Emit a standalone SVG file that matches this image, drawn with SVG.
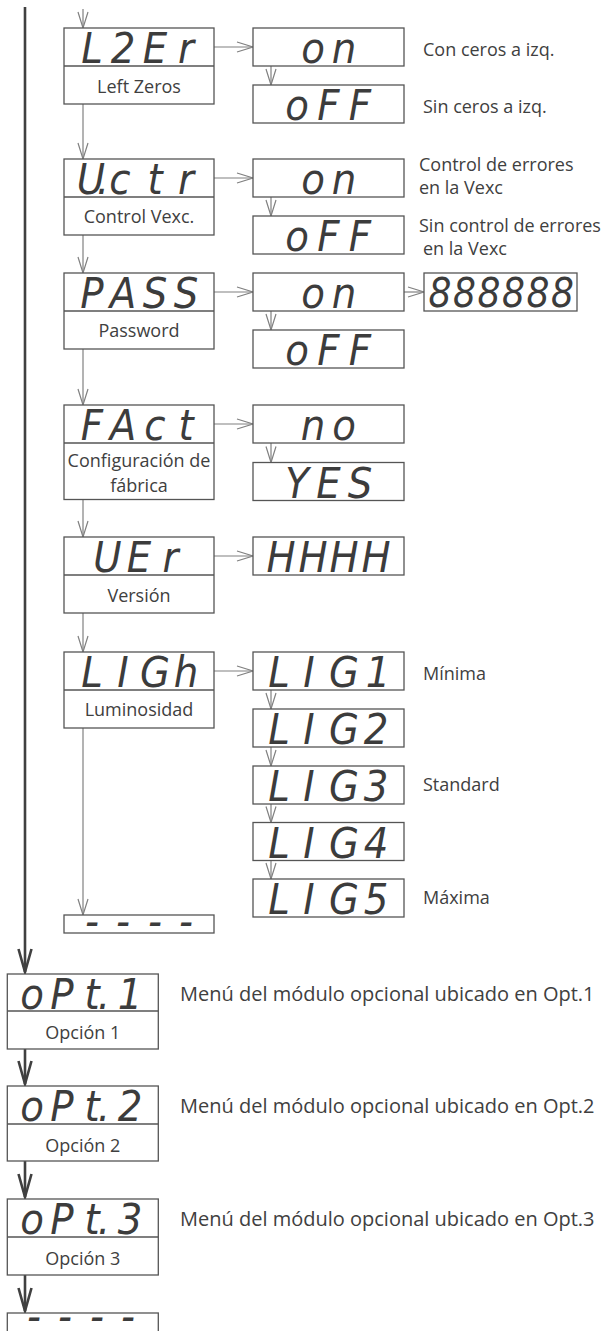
<svg xmlns="http://www.w3.org/2000/svg" width="613" height="1331" viewBox="0 0 613 1331">
  <style>
    .box{fill:#fff;stroke:#555;stroke-width:1.3}
    .div{stroke:#555;stroke-width:1.3}
    .seg{font-family:"DejaVu Sans Condensed","DejaVu Sans",sans-serif;font-stretch:condensed;font-style:oblique;font-size:43px;fill:#3c3c3c;text-anchor:middle}
    .seg6{font-size:40px}
    .lbl{font-family:"Open Sans","Liberation Sans",sans-serif;font-size:18px;fill:#404040}
    .big{font-size:20px}
    .mid{text-anchor:middle}
    .conn{stroke:#808080;stroke-width:1.2;fill:none;marker-end:url(#arr)}
    .mainA{stroke:#404040;stroke-width:2.6;fill:none;marker-end:url(#arrB)}
  </style>
  <defs>
    <marker id="arr" markerUnits="userSpaceOnUse" viewBox="0 0 17 11" refX="16.5" refY="5.5" markerWidth="17" markerHeight="11" orient="auto" overflow="visible">
      <path d="M0.5,0.5 L16.5,5.5 L0.5,10.5" fill="none" stroke="#808080" stroke-width="1.2"/>
    </marker>
    <marker id="arrB" markerUnits="userSpaceOnUse" viewBox="0 0 26 16" refX="24" refY="8" markerWidth="26" markerHeight="16" orient="auto" overflow="visible">
      <path d="M1,1.5 L24,8 L1,14.5" fill="none" stroke="#404040" stroke-width="2.6"/>
    </marker>
  </defs>

  <!-- connectors -->
  <g id="connectors">
    <!-- main spine -->
    <path class="mainA" d="M25,7 V972"/>
    <path class="mainA" d="M25,1049 V1084"/>
    <path class="mainA" d="M25,1161 V1197"/>
    <path class="mainA" d="M25,1275 V1311"/>
    <!-- left column -->
    <path class="conn" d="M83,9 V28"/>
    <path class="conn" d="M83,104 V159"/>
    <path class="conn" d="M83,235 V273"/>
    <path class="conn" d="M83,349 V405"/>
    <path class="conn" d="M83,499.5 V537"/>
    <path class="conn" d="M83,613 V652"/>
    <path class="conn" d="M83,728 V915"/>
    <!-- to options -->
    <path class="conn" d="M214,47 H253"/>
    <path class="conn" d="M214,178 H253"/>
    <path class="conn" d="M214,292 H253"/>
    <path class="conn" d="M214,424 H253"/>
    <path class="conn" d="M214,556 H253"/>
    <path class="conn" d="M214,671 H253"/>
    <path class="conn" d="M404,292 H424"/>
    <!-- option chains -->
    <path class="conn" d="M271,66 V85"/>
    <path class="conn" d="M271,197 V216"/>
    <path class="conn" d="M271,311 V330"/>
    <path class="conn" d="M271,443 V462.5"/>
    <path class="conn" d="M271,690 V709"/>
    <path class="conn" d="M271,747 V766"/>
    <path class="conn" d="M271,804 V822.5"/>
    <path class="conn" d="M271,860.5 V879"/>
  </g>

  <!-- left column menus -->
  <g id="l2er">
    <rect class="box" x="64" y="28" width="150" height="76"/>
    <line class="div" x1="64" y1="66" x2="214" y2="66"/>
    <text class="seg" x="92 123 155 186" y="63">L2Er</text>
    <text class="lbl mid" x="139" y="93">Left Zeros</text>
  </g>
  <g id="l2er-on">
    <rect class="box" x="253" y="28" width="151" height="38"/>
    <text class="seg" x="313 344" y="63">on</text>
  </g>
  <g id="l2er-off">
    <rect class="box" x="253" y="85" width="151" height="38"/>
    <text class="seg" x="297 328.5 360" y="120">oFF</text>
  </g>
  <text class="lbl" x="423" y="56">Con ceros a izq.</text>
  <text class="lbl" x="423" y="113">Sin ceros a izq.</text>

  <g id="uctr">
    <rect class="box" x="64" y="159" width="150" height="76"/>
    <line class="div" x1="64" y1="197" x2="214" y2="197"/>
    <text class="seg" x="91 103 120 155 186" y="194">U.ctr</text>
    <text class="lbl mid" x="139" y="223">Control Vexc.</text>
  </g>
  <g id="uctr-on">
    <rect class="box" x="253" y="159" width="151" height="38"/>
    <text class="seg" x="313 344" y="194">on</text>
  </g>
  <g id="uctr-off">
    <rect class="box" x="253" y="216" width="151" height="38"/>
    <text class="seg" x="297 328.5 360" y="251">oFF</text>
  </g>
  <text class="lbl" x="419" y="171">Control de errores</text>
  <text class="lbl" x="419" y="194">en la Vexc</text>
  <text class="lbl" x="419" y="232">Sin control de errores</text>
  <text class="lbl" x="423" y="255">en la Vexc</text>

  <g id="pass">
    <rect class="box" x="64" y="273" width="150" height="76"/>
    <line class="div" x1="64" y1="311" x2="214" y2="311"/>
    <text class="seg" x="92 123 155 186" y="308">PASS</text>
    <text class="lbl mid" x="139" y="337">Password</text>
  </g>
  <g id="pass-on">
    <rect class="box" x="253" y="273" width="151" height="38"/>
    <text class="seg" x="313 344" y="308">on</text>
  </g>
  <g id="pass-off">
    <rect class="box" x="253" y="330" width="151" height="38"/>
    <text class="seg" x="297 328.5 360" y="365">oFF</text>
  </g>
  <g id="pass-code">
    <rect class="box" x="424" y="273" width="153" height="38"/>
    <text class="seg seg6" x="440 464.5 489 513.5 538 562.5" y="307">888888</text>
  </g>

  <g id="fact">
    <rect class="box" x="64" y="405" width="150" height="94.5"/>
    <line class="div" x1="64" y1="443" x2="214" y2="443"/>
    <text class="seg" x="92 123 155 186" y="440">FAct</text>
    <text class="lbl mid" x="139" y="467">Configuración de</text>
    <text class="lbl mid" x="139" y="492">fábrica</text>
  </g>
  <g id="fact-no">
    <rect class="box" x="253" y="405" width="151" height="38"/>
    <text class="seg" x="313 344" y="440">no</text>
  </g>
  <g id="fact-yes">
    <rect class="box" x="253" y="462.5" width="151" height="38"/>
    <text class="seg" x="297 328.5 360" y="497.5">YES</text>
  </g>

  <g id="ver">
    <rect class="box" x="64" y="537" width="150" height="76"/>
    <line class="div" x1="64" y1="575" x2="214" y2="575"/>
    <text class="seg" x="107.5 139 170.5" y="572">UEr</text>
    <text class="lbl mid" x="139" y="602">Versión</text>
  </g>
  <g id="ver-value">
    <rect class="box" x="253" y="537" width="151" height="38"/>
    <text class="seg" x="281 313 344 376" y="572">HHHH</text>
  </g>

  <g id="ligh">
    <rect class="box" x="64" y="652" width="150" height="76"/>
    <line class="div" x1="64" y1="690" x2="214" y2="690"/>
    <text class="seg" x="92 123 155 186" y="687">LIGh</text>
    <text class="lbl mid" x="139" y="716">Luminosidad</text>
  </g>
  <g id="lig1">
    <rect class="box" x="253" y="652" width="151" height="38"/>
    <text class="seg" x="279 309 344 378" y="687">LIG1</text>
  </g>
  <g id="lig2">
    <rect class="box" x="253" y="709" width="151" height="38"/>
    <text class="seg" x="279 309 344 376" y="744">LIG2</text>
  </g>
  <g id="lig3">
    <rect class="box" x="253" y="766" width="151" height="38"/>
    <text class="seg" x="279 309 344 376" y="801">LIG3</text>
  </g>
  <g id="lig4">
    <rect class="box" x="253" y="822.5" width="151" height="38"/>
    <text class="seg" x="279 309 344 376" y="857.5">LIG4</text>
  </g>
  <g id="lig5">
    <rect class="box" x="253" y="879" width="151" height="38"/>
    <text class="seg" x="279 309 344 376" y="914">LIG5</text>
  </g>
  <text class="lbl" x="423" y="680">Mínima</text>
  <text class="lbl" x="423" y="791">Standard</text>
  <text class="lbl" x="423" y="904">Máxima</text>

  <g id="end-sub">
    <rect class="box" x="64" y="915" width="150" height="18"/>
    <text class="seg" x="92 123 155 186" y="936">----</text>
  </g>

  <!-- option modules -->
  <g id="opt1">
    <rect class="box" x="7.3" y="974" width="151" height="75"/>
    <line class="div" x1="7.3" y1="1011" x2="158.3" y2="1011"/>
    <text class="seg" x="32 62 92 104 130" y="1009">oPt.1</text>
    <text class="lbl mid" x="82.8" y="1039">Opción 1</text>
  </g>
  <text class="lbl big" x="180" y="1001">Menú del módulo opcional ubicado en Opt.1</text>

  <g id="opt2">
    <rect class="box" x="7.3" y="1086" width="151" height="75"/>
    <line class="div" x1="7.3" y1="1124" x2="158.3" y2="1124"/>
    <text class="seg" x="32 62 92 104 130" y="1121">oPt.2</text>
    <text class="lbl mid" x="82.8" y="1152">Opción 2</text>
  </g>
  <text class="lbl big" x="180" y="1113">Menú del módulo opcional ubicado en Opt.2</text>

  <g id="opt3">
    <rect class="box" x="7.3" y="1199" width="151" height="76"/>
    <line class="div" x1="7.3" y1="1237" x2="158.3" y2="1237"/>
    <text class="seg" x="32 62 92 104 130" y="1234">oPt.3</text>
    <text class="lbl mid" x="82.8" y="1265">Opción 3</text>
  </g>
  <text class="lbl big" x="180" y="1226">Menú del módulo opcional ubicado en Opt.3</text>

  <g id="end-main">
    <rect class="box" x="7.3" y="1313" width="151" height="40"/>
    <text class="seg" x="34 65 97 128" y="1331">----</text>
  </g>
</svg>
